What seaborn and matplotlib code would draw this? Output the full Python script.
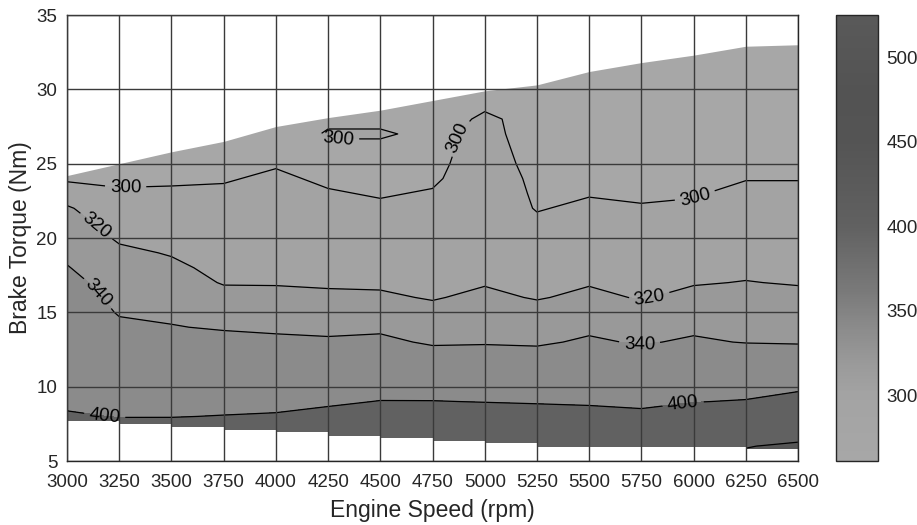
import numpy as np
import pandas as pd
import seaborn as sns
import matplotlib
matplotlib.use("Agg")
import matplotlib.pyplot as plt
from matplotlib.colors import LinearSegmentedColormap, Normalize
from matplotlib.cm import ScalarMappable

# Engine map grid: speed columns (rpm) x torque rows (Nm)
speeds = [3000, 3250, 3500, 3750, 4000, 4250, 4500, 4750, 5000, 5250, 5500, 5750, 6000, 6250, 6500]
torques = list(range(5, 35))

# BSFC (g/kWh) along torque 5..34 Nm, one list per speed
bsfc_3000 = [445, 430, 416, 403, 395, 389, 383, 377, 371, 365, 359, 353, 347, 341, 336, 331, 327, 322, 311, 297, 294, 291, 288, 285, 281, 278, 274, 270, 266, 261]
bsfc_3250 = [450, 432, 414, 399, 390, 381, 372, 363, 354, 345, 338, 334, 330, 327, 323, 318, 313, 307, 302, 297, 294, 292, 290, 289, 288, 287, 286, 285, 284, 283]
bsfc_3500 = [452, 434, 415, 399, 389, 379, 370, 360, 350, 341, 336, 332, 327, 323, 319, 315, 311, 306, 302, 298, 295, 293, 291, 289, 288, 287, 286, 285, 284, 283]
bsfc_3750 = [455, 436, 417, 401, 390, 379, 368, 358, 347, 338, 332, 325, 319, 316, 314, 311, 308, 305, 302, 299, 296, 294, 292, 290, 289, 288, 287, 286, 285, 284]
bsfc_4000 = [458, 440, 421, 403, 391, 379, 368, 356, 345, 336, 330, 324, 319, 317, 314, 312, 309, 307, 304, 302, 299, 296, 294, 292, 290, 289, 288, 287, 286, 285]
bsfc_4250 = [462, 444, 427, 410, 395, 382, 369, 356, 343, 335, 329, 323, 318, 316, 313, 310, 307, 304, 301, 298, 296, 298, 301, 298, 295, 293, 291, 290, 289, 288]
bsfc_4500 = [468, 450, 433, 416, 401, 387, 373, 359, 345, 336, 329, 322, 318, 315, 312, 309, 306, 302, 299, 296, 295, 298, 301, 298, 296, 294, 292, 291, 290, 289]
bsfc_4750 = [472, 454, 436, 418, 401, 384, 367, 350, 337, 331, 324, 319, 317, 314, 311, 309, 306, 303, 301, 298, 297, 297, 298, 297, 296, 295, 294, 293, 292, 291]
bsfc_5000 = [476, 458, 438, 419, 399, 383, 367, 350, 338, 333, 328, 323, 319, 318, 316, 314, 313, 311, 309, 308, 306, 304, 302, 301, 299, 297, 296, 295, 294, 293]
bsfc_5250 = [480, 460, 438, 417, 397, 381, 364, 348, 337, 331, 325, 319, 316, 313, 310, 306, 303, 299, 298, 297, 296, 296, 297, 298, 297, 296, 295, 294, 293, 292]
bsfc_5500 = [484, 462, 440, 414, 395, 382, 369, 356, 343, 336, 330, 323, 319, 316, 313, 309, 306, 303, 299, 297, 295, 294, 294, 295, 296, 295, 294, 293, 292, 291]
bsfc_5750 = [488, 464, 438, 410, 391, 378, 364, 350, 338, 332, 326, 319, 317, 313, 310, 307, 304, 301, 298, 295, 294, 293, 293, 294, 295, 294, 293, 292, 291, 290]
bsfc_6000 = [492, 468, 444, 418, 399, 385, 371, 357, 343, 336, 330, 324, 319, 316, 312, 309, 306, 302, 299, 296, 294, 293, 293, 293, 294, 294, 293, 292, 291, 290]
bsfc_6250 = [512, 498, 465, 432, 402, 387, 371, 355, 339, 335, 330, 325, 320.5, 317, 314, 311, 309, 306, 303, 299.5, 297, 295, 294, 293, 293, 292, 291, 290, 289, 288]
bsfc_6500 = [525, 508, 478, 448, 416, 392, 373, 353, 338, 333, 329, 324, 319, 317, 314, 311, 308, 306, 303, 299.5, 297, 295, 294, 293, 292, 291, 290, 289, 288, 287]

bsfc_columns = [bsfc_3000, bsfc_3250, bsfc_3500, bsfc_3750, bsfc_4000, bsfc_4250, bsfc_4500,
                bsfc_4750, bsfc_5000, bsfc_5250, bsfc_5500, bsfc_5750, bsfc_6000, bsfc_6250, bsfc_6500]

# operating envelope (outside is blank)
max_torque = [24.2, 25.0, 25.8, 26.5, 27.5, 28.1, 28.6, 29.25, 29.9, 30.3, 31.2, 31.8, 32.3, 32.9, 33.0]
min_torque = [7.71, 7.47, 7.31, 7.08, 6.93, 6.70, 6.52, 6.34, 6.19, 5.92, 5.92, 5.92, 5.92, 5.81, 5.81]

contour_levels = [300, 320, 340, 400, 500]
label_levels = [300, 320, 340, 400]
label_positions = [(3280, 23.6), (4300, 27.0), (4800, 27.0), (6000, 23.0),
                   (3140, 20.8), (5790, 15.9),
                   (3150, 16.3), (5740, 12.7),
                   (3180, 8.0), (5950, 8.9)]

df = pd.DataFrame(np.array(bsfc_columns).T, index=torques, columns=speeds)
X, Y = np.meshgrid(df.columns.values, df.index.values)
Z = df.values

sns.set_style("white")
plt.rcParams["font.family"] = ["Liberation Sans", "DejaVu Sans"]

# grey ramp like the original colour bar
gray_nodes = [(0.0, 0.655), (0.148, 0.64), (0.223, 0.60), (0.299, 0.545),
              (0.375, 0.48), (0.527, 0.38), (0.716, 0.33), (0.83, 0.325), (1.0, 0.35)]
cmap = LinearSegmentedColormap.from_list("bsfc_grey", [(p, (g, g, g)) for p, g in gray_nodes])
norm = Normalize(vmin=Z.min(), vmax=Z.max())

fill_levels = [Z.min()] + contour_levels + [Z.max()]
band_colors = [cmap(norm(v)) for v in fill_levels[:-1]]

fig = plt.figure(figsize=(9.17, 5.25), dpi=100)
ax = fig.add_axes([0.0731, 0.1219, 0.7971, 0.8495])
cax = fig.add_axes([0.9117, 0.1219, 0.0458, 0.8495])

ax.contourf(X, Y, Z, levels=fill_levels, colors=band_colors, zorder=1)
cs = ax.contour(X, Y, Z, levels=contour_levels, colors="black", linewidths=0.9, zorder=2)
ax.clabel(cs, levels=label_levels, inline=True, fmt="%d", fontsize=13.5, manual=label_positions)

# blank outside the envelope
ax.fill_between(speeds, max_torque, 35, color="white", lw=0, zorder=2.2)
ax.fill_between(speeds, 5, min_torque, step="post", color="white", lw=0, zorder=2.2)

ax.set_xlim(3000, 6500)
ax.set_ylim(5, 35)
ax.set_xticks(speeds)
ax.set_yticks(range(5, 36, 5))
ax.set_axisbelow(False)
ax.grid(True, color="#3a3a3a", linewidth=1.0)
ax.tick_params(direction="in", length=3, labelsize=13.5, colors="#262626")
ax.tick_params(axis="x", pad=9)
ax.tick_params(axis="y", pad=7)
for spine in ax.spines.values():
    spine.set_color("#262626")
    spine.set_linewidth(1.0)

ax.set_xlabel("Engine Speed (rpm)", fontsize=16.5, color="#262626", labelpad=6)
ax.set_ylabel("Brake Torque (Nm)", fontsize=16.5, color="#262626", labelpad=3)

cb = fig.colorbar(ScalarMappable(norm=norm, cmap=cmap), cax=cax)
cb.set_ticks([300, 350, 400, 450, 500])
cb.ax.tick_params(direction="in", length=4, labelsize=13.5, colors="#262626", pad=6)
cb.outline.set_edgecolor("#262626")
cb.outline.set_linewidth(1.0)

fig.savefig("out.png", dpi=100)
plt.close(fig)
